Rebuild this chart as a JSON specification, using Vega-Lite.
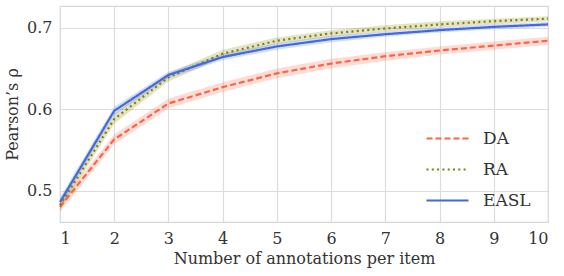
{
  "$schema": "https://vega.github.io/schema/vega-lite/v6.json",
  "width": 488,
  "height": 216,
  "autosize": {"type": "none"},
  "padding": {"left": 60, "top": 6, "right": 16, "bottom": 54},
  "background": "white",
  "config": {
    "font": "DejaVu Serif",
    "view": {"stroke": "#d6d6d6", "strokeWidth": 1.2},
    "axis": {
      "domain": false,
      "ticks": false,
      "gridColor": "#dcdcdc",
      "gridWidth": 1.2,
      "labelFont": "DejaVu Serif",
      "labelFontSize": 16,
      "labelColor": "#333333",
      "titleFont": "DejaVu Serif",
      "titleFontSize": 16,
      "titleFontWeight": "normal",
      "titleColor": "#333333"
    },
    "legend": {
      "labelFont": "DejaVu Serif",
      "labelFontSize": 17,
      "labelColor": "#333333"
    }
  },
  "data": {
    "values": [
      {"series": "DA", "x": 1, "y": 0.480, "lo": 0.474, "hi": 0.486},
      {"series": "DA", "x": 2, "y": 0.563, "lo": 0.557, "hi": 0.569},
      {"series": "DA", "x": 3, "y": 0.607, "lo": 0.601, "hi": 0.613},
      {"series": "DA", "x": 4, "y": 0.627, "lo": 0.621, "hi": 0.633},
      {"series": "DA", "x": 5, "y": 0.644, "lo": 0.638, "hi": 0.650},
      {"series": "DA", "x": 6, "y": 0.656, "lo": 0.650, "hi": 0.662},
      {"series": "DA", "x": 7, "y": 0.665, "lo": 0.659, "hi": 0.670},
      {"series": "DA", "x": 8, "y": 0.672, "lo": 0.667, "hi": 0.677},
      {"series": "DA", "x": 9, "y": 0.678, "lo": 0.673, "hi": 0.683},
      {"series": "DA", "x": 10, "y": 0.684, "lo": 0.679, "hi": 0.689},
      {"series": "RA", "x": 1, "y": 0.482, "lo": 0.476, "hi": 0.488},
      {"series": "RA", "x": 2, "y": 0.588, "lo": 0.582, "hi": 0.594},
      {"series": "RA", "x": 3, "y": 0.639, "lo": 0.634, "hi": 0.644},
      {"series": "RA", "x": 4, "y": 0.668, "lo": 0.663, "hi": 0.673},
      {"series": "RA", "x": 5, "y": 0.684, "lo": 0.680, "hi": 0.688},
      {"series": "RA", "x": 6, "y": 0.693, "lo": 0.689, "hi": 0.697},
      {"series": "RA", "x": 7, "y": 0.699, "lo": 0.695, "hi": 0.703},
      {"series": "RA", "x": 8, "y": 0.704, "lo": 0.700, "hi": 0.708},
      {"series": "RA", "x": 9, "y": 0.708, "lo": 0.704, "hi": 0.711},
      {"series": "RA", "x": 10, "y": 0.711, "lo": 0.708, "hi": 0.714},
      {"series": "EASL", "x": 1, "y": 0.486, "lo": 0.480, "hi": 0.492},
      {"series": "EASL", "x": 2, "y": 0.598, "lo": 0.593, "hi": 0.603},
      {"series": "EASL", "x": 3, "y": 0.642, "lo": 0.638, "hi": 0.646},
      {"series": "EASL", "x": 4, "y": 0.664, "lo": 0.660, "hi": 0.668},
      {"series": "EASL", "x": 5, "y": 0.677, "lo": 0.673, "hi": 0.681},
      {"series": "EASL", "x": 6, "y": 0.686, "lo": 0.682, "hi": 0.690},
      {"series": "EASL", "x": 7, "y": 0.692, "lo": 0.689, "hi": 0.695},
      {"series": "EASL", "x": 8, "y": 0.697, "lo": 0.694, "hi": 0.700},
      {"series": "EASL", "x": 9, "y": 0.701, "lo": 0.698, "hi": 0.704},
      {"series": "EASL", "x": 10, "y": 0.704, "lo": 0.701, "hi": 0.707}
    ]
  },
  "encoding": {
    "x": {
      "field": "x", "type": "quantitative",
      "scale": {"domain": [1, 10], "nice": false, "zero": false},
      "axis": {"values": [1,2,3,4,5,6,7,8,9,10], "title": "Number of annotations per item", "labelPadding": 8, "titlePadding": 4}
    }
  },
  "layer": [
    {
      "mark": {"type": "area", "fillOpacity": 0.22},
      "encoding": {
        "y": {"field": "lo", "type": "quantitative"},
        "y2": {"field": "hi"},
        "color": {"field": "series", "type": "nominal", "scale": {"domain": ["DA", "RA", "EASL"], "range": ["#ff6347", "#808000", "#4169e1"]}}
      }
    },
    {
      "mark": {"type": "line", "strokeWidth": 2.2},
      "encoding": {
        "y": {
          "field": "y", "type": "quantitative",
          "scale": {"domain": [0.4616, 0.7266], "nice": false, "zero": false},
          "axis": {"values": [0.5, 0.6, 0.7], "format": ".1f", "title": "Pearson’s ρ", "labelPadding": 8, "titlePadding": 6}
        },
        "color": {
          "field": "series", "type": "nominal",
          "scale": {"domain": ["DA", "RA", "EASL"], "range": ["#ff6347", "#808000", "#4169e1"]},
          "legend": {"title": null, "orient": "none", "legendX": 365, "legendY": 110, "symbolType": "stroke", "symbolSize": 1764, "symbolStrokeWidth": 2.2, "symbolOpacity": 1, "rowPadding": -16, "labelOffset": 13}
        },
        "strokeDash": {
          "field": "series", "type": "nominal",
          "scale": {"domain": ["DA", "RA", "EASL"], "range": [[6, 3], [2, 3.3], [1, 0]]},
          "legend": {"title": null, "orient": "none", "legendX": 365, "legendY": 110, "symbolType": "stroke", "symbolSize": 1764, "symbolStrokeWidth": 2.2, "symbolOpacity": 1, "rowPadding": -16, "labelOffset": 13}
        }
      }
    }
  ]
}
